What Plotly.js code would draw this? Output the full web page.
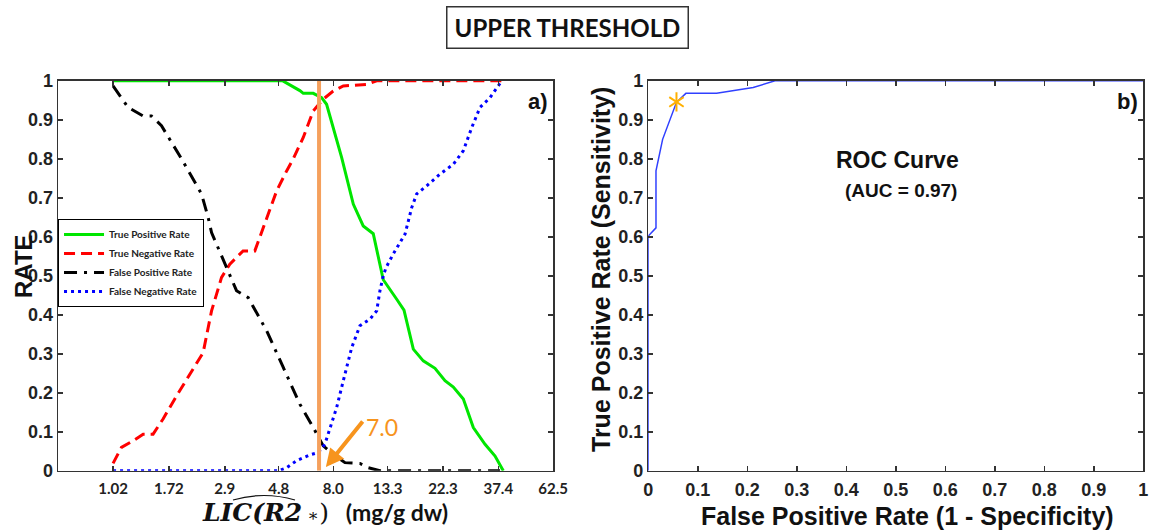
<!DOCTYPE html>
<html>
<head>
<meta charset="utf-8">
<script src="https://cdn.plot.ly/plotly-3.0.1.min.js"></script>
<style>html,body{margin:0;padding:0;background:#fff;}#chart{width:1149px;height:532px;}</style>
</head>
<body>
<div id="chart"></div>
<script>
// ---- Panel a) : rates versus LIC threshold (mg/g dw) ----
const xTickVals = [1.02, 1.72, 2.9, 4.8, 8.0, 13.3, 22.3, 37.4, 62.5];
const xTickText = ["1.02", "1.72", "2.9", "4.8", "8.0", "13.3", "22.3", "37.4", "62.5"];

const tprX = [1.02, 4.99, 5.85, 6.04, 6.63, 7.17, 7.51, 8.65, 9.64, 10.58, 11.62, 12.76, 14.47, 15.49, 16.90, 18.55, 20.70, 22.73, 24.57, 26.98, 29.62, 33.05, 36.29, 39.2];
const tprY = [1.0, 1.0, 0.975, 0.968, 0.968, 0.957, 0.94, 0.803, 0.684, 0.628, 0.608, 0.49, 0.44, 0.412, 0.312, 0.282, 0.263, 0.231, 0.215, 0.184, 0.111, 0.068, 0.038, 0.0];

const tnrX = [1.02, 1.103, 1.23, 1.351, 1.483, 1.628, 1.846, 2.091, 2.368, 2.562, 2.813, 3.04, 3.44, 3.84, 4.29, 4.71, 5.17, 5.50, 6.04, 6.63, 7.28, 7.99, 8.78, 10.93, 12.0, 39.2];
const tnrY = [0.019, 0.06, 0.077, 0.094, 0.094, 0.133, 0.192, 0.248, 0.303, 0.41, 0.496, 0.53, 0.564, 0.564, 0.65, 0.718, 0.769, 0.80, 0.855, 0.923, 0.953, 0.974, 0.987, 0.991, 1.0, 1.0];

const fprX = [1.02, 1.174, 1.351, 1.461, 1.604, 1.935, 2.333, 2.481, 2.562, 2.949, 3.236, 3.61, 4.29, 5.01, 5.85, 6.63, 7.28, 7.99, 8.92, 10.26, 11.09, 12.37, 38.03];
const fprY = [0.987, 0.932, 0.91, 0.91, 0.885, 0.80, 0.71, 0.65, 0.611, 0.521, 0.462, 0.444, 0.359, 0.265, 0.171, 0.111, 0.064, 0.043, 0.021, 0.019, 0.008, 0.0, 0.0];

const fnrX = [1.02, 4.78, 5.17, 5.67, 6.43, 6.95, 7.39, 7.75, 8.25, 8.78, 9.50, 10.26, 11.27, 12.0, 12.37, 12.76, 13.09, 14.01, 15.64, 16.65, 17.44, 19.16, 21.70, 24.57, 26.98, 29.18, 31.53, 34.63, 38.03, 38.65];
const fnrY = [0.0, 0.0, 0.008, 0.026, 0.041, 0.047, 0.068, 0.111, 0.162, 0.231, 0.316, 0.372, 0.389, 0.41, 0.462, 0.50, 0.521, 0.556, 0.607, 0.675, 0.71, 0.731, 0.761, 0.786, 0.821, 0.88, 0.932, 0.957, 0.991, 1.0];

const thresholdValue = 7.0;
const thresholdLabel = "7.0";

// ---- Panel b) : ROC curve ----
const rocFPR = [0, 0, 0.0156, 0.0156, 0.029, 0.057, 0.076, 0.138, 0.212, 0.256, 1.0];
const rocTPR = [0, 0.602, 0.623, 0.769, 0.85, 0.945, 0.968, 0.968, 0.983, 1.0, 1.0];
const optimalFPR = [0.057];
const optimalTPR = [0.946];
const aucText = "(AUC = 0.97)";

const narrow = "'Liberation Sans Narrow', 'Arial Narrow', 'Liberation Sans', Arial, sans-serif";
const arial = "'Liberation Sans', Arial, sans-serif";
const calib = "Lato, 'Open Sans', sans-serif";

const starMarker = (sym) => ({symbol: sym, size: 12, color: '#FFB000', line: {color: '#FFB000', width: 2}});

const traces = [
  {x: tprX, y: tprY, type: 'scatter', mode: 'lines', name: 'True Positive Rate',
   line: {color: '#00E600', width: 3}, xaxis: 'x', yaxis: 'y'},
  {x: tnrX, y: tnrY, type: 'scatter', mode: 'lines', name: 'True Negative Rate',
   line: {color: '#FF0000', width: 3, dash: '11px,6px'}, xaxis: 'x', yaxis: 'y'},
  {x: fprX, y: fprY, type: 'scatter', mode: 'lines', name: 'False Positive Rate',
   line: {color: '#000000', width: 3, dash: '13px,7px,3px,7px'}, xaxis: 'x', yaxis: 'y'},
  {x: fnrX, y: fnrY, type: 'scatter', mode: 'lines', name: 'False Negative Rate',
   line: {color: '#0000FF', width: 3, dash: '3px,4px'}, xaxis: 'x', yaxis: 'y'},
  {x: [thresholdValue, thresholdValue], y: [0, 1], type: 'scatter', mode: 'lines',
   line: {color: '#F5A05C', width: 4}, showlegend: false, hoverinfo: 'skip', xaxis: 'x', yaxis: 'y'},
  {x: rocFPR, y: rocTPR, type: 'scatter', mode: 'lines', showlegend: false,
   line: {color: '#3040FF', width: 1.5}, xaxis: 'x2', yaxis: 'y2'},
  {x: optimalFPR, y: optimalTPR, type: 'scatter', mode: 'markers', showlegend: false,
   marker: starMarker('y-up-open'), xaxis: 'x2', yaxis: 'y2'},
  {x: optimalFPR, y: optimalTPR, type: 'scatter', mode: 'markers', showlegend: false,
   marker: starMarker('y-down-open'), xaxis: 'x2', yaxis: 'y2'}
];

const axisCommon = {
  showline: true, linecolor: '#333', linewidth: 1.5, mirror: 'allticks',
  ticks: 'inside', ticklen: 5, tickcolor: '#333', tickwidth: 1.5,
  showgrid: false, zeroline: false, fixedrange: true
};

const yDom = [0.115, 0.848];
const serif = "font-family:'DejaVu Serif',serif;";

const layout = {
  width: 1149, height: 532,
  margin: {l: 0, r: 0, t: 0, b: 0},
  paper_bgcolor: '#fff', plot_bgcolor: '#fff',
  showlegend: true,
  legend: {
    x: 0.0505, y: 1 - 219/532, xanchor: 'left', yanchor: 'top',
    bgcolor: '#fff', bordercolor: '#000', borderwidth: 1,
    font: {family: calib, size: 10, color: '#222', weight: 'bold'},
    itemwidth: 40, tracegroupgap: 0
  },
  xaxis: Object.assign({}, axisCommon, {
    domain: [0.0505, 0.4816], type: 'log', range: [-0.2149, 1.7966], anchor: 'y',
    tickmode: 'array', tickvals: xTickVals, ticktext: xTickText,
    tickfont: {family: calib, size: 15, color: '#222', weight: 'bold'}, ticklabelstandoff: 4
  }),
  yaxis: Object.assign({}, axisCommon, {
    domain: yDom, range: [0, 1], dtick: 0.1, tick0: 0, anchor: 'x',
    tickfont: {family: narrow, size: 18, color: '#222', weight: 'bold'}
  }),
  xaxis2: Object.assign({}, axisCommon, {
    domain: [0.5642, 0.9950], range: [0, 1], dtick: 0.1, tick0: 0, anchor: 'y2',
    tickfont: {family: narrow, size: 18, color: '#222', weight: 'bold'}, ticklabelstandoff: 2
  }),
  yaxis2: Object.assign({}, axisCommon, {
    domain: yDom, range: [0, 1], dtick: 0.1, tick0: 0, anchor: 'x2',
    tickfont: {family: narrow, size: 18, color: '#222', weight: 'bold'}
  }),
  annotations: [
    {xref: 'paper', yref: 'paper', x: 567/1149, y: 1 - 28/532, xanchor: 'center', yanchor: 'middle',
     text: 'UPPER THRESHOLD', showarrow: false, width: 238, height: 38,
     font: {family: calib, size: 24, color: '#111', weight: 'bold'},
     bordercolor: '#333', borderwidth: 1.5, bgcolor: '#fff'},
    {xref: 'paper', yref: 'paper', x: 550/1149, y: 1 - 101/532, xanchor: 'right', yanchor: 'middle',
     text: 'a)', showarrow: false, font: {family: arial, size: 22, color: '#111', weight: 'bold'}},
    {xref: 'paper', yref: 'paper', x: 1140/1149, y: 1 - 101/532, xanchor: 'right', yanchor: 'middle',
     text: 'b)', showarrow: false, font: {family: arial, size: 22, color: '#111', weight: 'bold'}},
    {xref: 'paper', yref: 'paper', x: 23/1149, y: 1 - 266/532, xanchor: 'center', yanchor: 'middle',
     text: 'RATE', textangle: -90, showarrow: false,
     font: {family: arial, size: 24, color: '#111', weight: 'bold'}},
    {xref: 'paper', yref: 'paper', x: 200/1149, y: 1 - 512/532, xanchor: 'left', yanchor: 'middle',
     text: "<span style=\"" + serif + "font-style:italic;font-size:25px\">LIC(R2</span>" +
           "<span style=\"" + serif + "font-weight:normal;font-size:17px\">\u00A0\u2217</span>" +
           "<span style=\"" + serif + "font-weight:normal;font-size:25px\">)</span>\u00A0\u00A0\u00A0(mg/g dw)",
     showarrow: false, font: {family: calib, size: 23, color: '#111', weight: 'bold'}},
    {xref: 'paper', yref: 'paper', x: 601/1149, y: 1 - 270/532, xanchor: 'center', yanchor: 'middle',
     text: 'True Positive Rate (Sensitivity)', textangle: -90, showarrow: false,
     font: {family: arial, size: 25, color: '#111', weight: 'bold'}},
    {xref: 'paper', yref: 'paper', x: 907/1149, y: 1 - 516/532, xanchor: 'center', yanchor: 'middle',
     text: 'False Positive Rate (1 - Specificity)', showarrow: false,
     font: {family: arial, size: 25, color: '#111', weight: 'bold'}},
    {xref: 'paper', yref: 'paper', x: 897/1149, y: 1 - 160/532, xanchor: 'center', yanchor: 'middle',
     text: 'ROC Curve', showarrow: false, font: {family: arial, size: 23, color: '#111', weight: 'bold'}},
    {xref: 'paper', yref: 'paper', x: 901/1149, y: 1 - 190/532, xanchor: 'center', yanchor: 'middle',
     text: aucText, showarrow: false, font: {family: narrow, size: 19, color: '#111', weight: 'bold'}},
    {xref: 'x', yref: 'y', x: Math.log10(7.46), y: 0.0095, ax: 38, ay: -47, axref: 'pixel', ayref: 'pixel',
     text: '', showarrow: true, arrowhead: 2, arrowsize: 0.9, arrowwidth: 4, arrowcolor: '#F7941D'},
    {xref: 'x', yref: 'y', x: 1.1006, y: 0.112, xanchor: 'center', yanchor: 'middle',
     text: thresholdLabel, showarrow: false, font: {family: calib, size: 23, color: '#F7941D'}}
  ],
  shapes: [
    {type: 'path', xref: 'paper', yref: 'paper',
     path: 'M ' + (233/1149) + ',' + (1 - 500/532) + ' Q ' + (264/1149) + ',' + (1 - 491/532) + ' ' + (295/1149) + ',' + (1 - 500/532),
     line: {color: '#111', width: 1.2}}
  ]
};

Plotly.newPlot('chart', traces, layout, {displayModeBar: false, staticPlot: true});
</script>
</body>
</html>
